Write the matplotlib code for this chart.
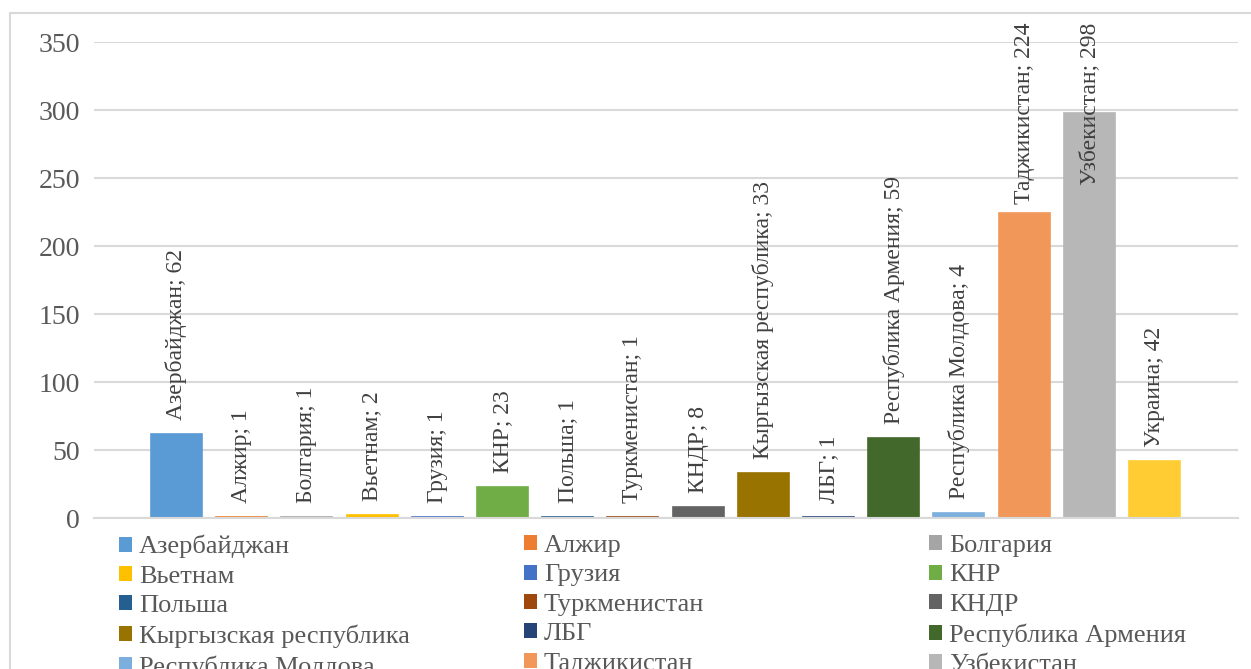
import matplotlib
matplotlib.use("Agg")
import matplotlib.pyplot as plt
from matplotlib.patches import Patch, Rectangle

countries = ["Азербайджан", "Алжир", "Болгария", "Вьетнам", "Грузия", "КНР",
             "Польша", "Туркменистан", "КНДР", "Кыргызская республика", "ЛБГ",
             "Республика Армения", "Республика Молдова", "Таджикистан",
             "Узбекистан", "Украина"]
values = [62, 1, 1, 2, 1, 23, 1, 1, 8, 33, 1, 59, 4, 224, 298, 42]
colors = ["#5B9BD5", "#ED7D31", "#A5A5A5", "#FFC000", "#4472C4", "#70AD47",
          "#255E91", "#9E480E", "#636363", "#997300", "#264478", "#43682B",
          "#7CAFDD", "#F1975A", "#B7B7B7", "#FFCD33"]
yticks = [0, 50, 100, 150, 200, 250, 300, 350]

plt.rcParams["font.family"] = ["Liberation Serif", "DejaVu Serif"]

W, H = 1251, 669
fig = plt.figure(figsize=(W / 100, H / 100), dpi=100)
ax = fig.add_axes([94 / W, 1 - 518 / H, (1238 - 94) / W, (518 - 42) / H])

# chart border
fig.patches.append(Rectangle((10 / W, -0.1), 1.2, 1.1 - 13 / H,
                             transform=fig.transFigure, fill=False,
                             edgecolor="#D9D9D9", linewidth=1.5))

x = list(range(len(values)))
ax.bar(x, values, width=0.78, color=colors, edgecolor=colors,
       linewidth=1.2, zorder=2)

ax.set_ylim(0, 350)
ax.set_xlim(-1.265, len(values) - 1 + 1.28)
ax.set_yticks(yticks)
ax.set_xticks([])
ax.yaxis.grid(True, color="#D9D9D9", linewidth=1.5, zorder=0)
ax.tick_params(axis="y", length=0, pad=10, labelsize=20, labelcolor="#595959")
for s in ["top", "right", "left"]:
    ax.spines[s].set_visible(False)
ax.spines["bottom"].set_color("#D9D9D9")
ax.spines["bottom"].set_linewidth(1.5)
ax.spines["bottom"].set_zorder(3)

# data labels
labels = []
for xi, v, name in zip(x, values, countries):
    t = ax.annotate(f"{name}; {v}", (xi, v), xytext=(0, 10),
                    textcoords="offset points", rotation=90,
                    ha="center", va="bottom", fontsize=17, color="#404040",
                    annotation_clip=False, zorder=3)
    labels.append(t)

# keep labels inside the chart area (like Excel does)
fig.canvas.draw()
r = fig.canvas.get_renderer()
top_px = H - 23
for t in labels:
    bb = t.get_window_extent(r)
    if bb.y1 > top_px:
        shift = (bb.y1 - top_px) * 72 / 100
        t.xyann = (0, 10 - shift)

# legend, three columns placed like the original (last row falls off the image)
col_x = [119, 524, 929]
for c in range(3):
    idx = list(range(c, len(countries), 3))
    handles = [Patch(facecolor=colors[i], edgecolor="none") for i in idx]
    fig.legend(handles, [countries[i] for i in idx], loc="upper left",
               bbox_to_anchor=(col_x[c] / W, 1 - 535 / H),
               frameon=False, fontsize=19, handlelength=0.5,
               handleheight=0.5, handletextpad=0.25, labelspacing=0.28,
               borderpad=0, borderaxespad=0, labelcolor="#595959")

fig.savefig("out.png", dpi=100)
